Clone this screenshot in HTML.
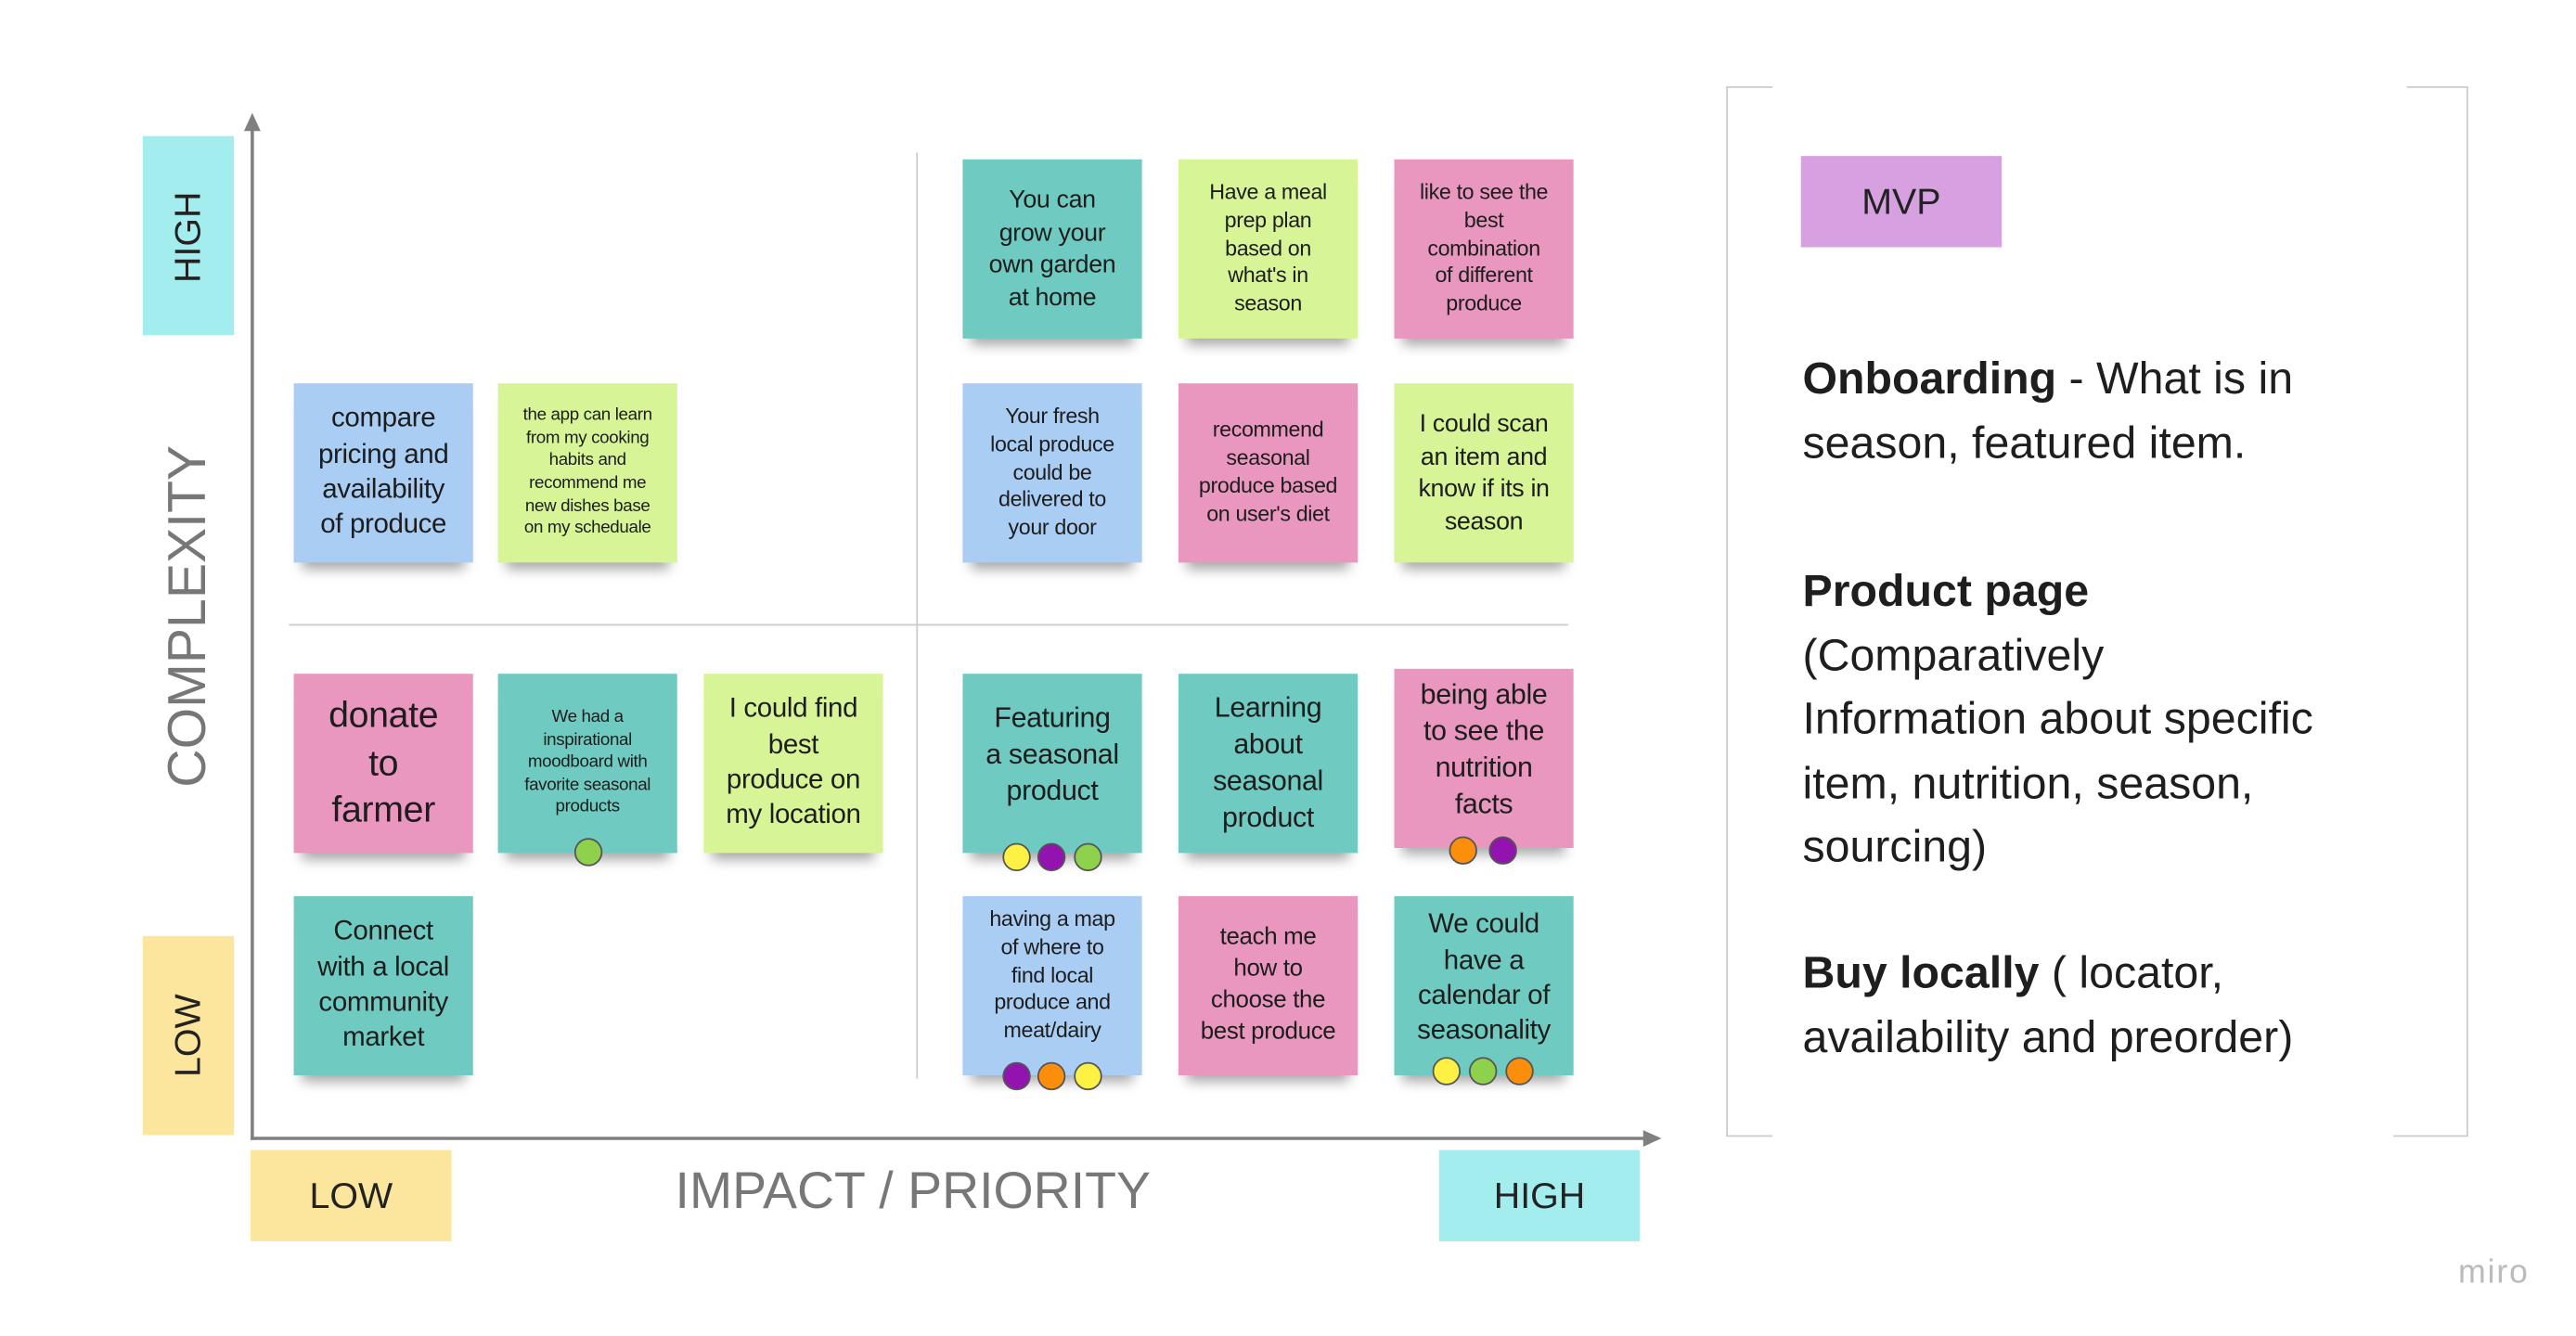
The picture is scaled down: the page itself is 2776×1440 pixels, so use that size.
<!DOCTYPE html>
<html><head><meta charset="utf-8"><style>
html,body{margin:0;padding:0;background:#fff;}
body{width:2776px;height:1440px;overflow:hidden;position:relative;}
#w{position:absolute;left:0;top:0;width:1552px;height:805px;transform:scale(1.78866);transform-origin:0 0;font-family:"Liberation Sans",sans-serif;}
.a{position:absolute;}
.n{position:absolute;width:108px;height:108px;display:flex;align-items:center;justify-content:center;text-align:center;color:#1d1d1d;box-shadow:0 9px 7px -5px rgba(0,0,0,.35);line-height:1.3;letter-spacing:-0.2px;box-sizing:border-box;padding:0 4px;}
.t{background:#6fcbc1}.l{background:#d7f596}.p{background:#ea97bf}.b{background:#aacdf4}
.d{position:absolute;width:17px;height:17px;border-radius:50%;border:1px solid #555;box-sizing:border-box;}
.y{background:#fdf143}.pu{background:#9313b0}.g{background:#8ed14c}.o{background:#fb8e0a}
.rt{position:absolute;transform:rotate(-90deg);white-space:nowrap;}
.r{position:absolute;left:1086px;font-size:27px;color:#1e1e1e;line-height:38.5px;white-space:nowrap;}
</style></head><body><div id="w">
<!-- axis labels -->
<div class="a" style="left:86px;top:82px;width:55px;height:120px;background:#a3edee"></div>
<div class="rt" style="left:76px;top:130px;width:75px;text-align:center;font-size:22px;color:#222">HIGH</div>
<div class="a" style="left:86px;top:564px;width:55px;height:120px;background:#fce59c"></div>
<div class="rt" style="left:76px;top:611px;width:75px;text-align:center;font-size:22px;color:#222">LOW</div>
<div class="rt" style="left:23px;top:366px;width:180px;text-align:center;font-size:32px;color:#777">COMPLEXITY</div>
<div class="a" style="left:151px;top:693px;width:121px;height:55px;background:#fce59c;font-size:22px;color:#222;text-align:center;line-height:55px">LOW</div>
<div class="a" style="left:867px;top:693px;width:121px;height:55px;background:#a3edee;font-size:22px;color:#222;text-align:center;line-height:55px">HIGH</div>
<div class="a" style="left:380px;top:700px;width:340px;text-align:center;font-size:31px;color:#777">IMPACT / PRIORITY</div>
<svg class="a" style="left:0;top:0" width="1552" height="805">
<line x1="152" y1="76" x2="152" y2="687" stroke="#808080" stroke-width="2"/>
<polygon points="152,68 147,79 157,79" fill="#808080"/>
<line x1="151" y1="686" x2="994" y2="686" stroke="#808080" stroke-width="2"/>
<polygon points="1001,686 990,681 990,691" fill="#808080"/>
<line x1="552.5" y1="92" x2="552.5" y2="650" stroke="#ccc" stroke-width="1"/>
<line x1="174" y1="376.5" x2="945" y2="376.5" stroke="#ccc" stroke-width="1"/>
<path d="M1068,52.5 H1040.5 V684.5 H1068 M1450,52.5 H1486.5 V684.5 H1442" fill="none" stroke="#ccc" stroke-width="1"/>
</svg>
<!-- row 1 -->
<div class="n t" style="left:580px;top:96px;font-size:15px">You can<br>grow your<br>own garden<br>at home</div>
<div class="n l" style="left:710px;top:96px;font-size:13px">Have a meal<br>prep plan<br>based on<br>what's in<br>season</div>
<div class="n p" style="left:840px;top:96px;font-size:13px">like to see the<br>best<br>combination<br>of different<br>produce</div>
<!-- row 2 -->
<div class="n b" style="left:177px;top:231px;font-size:16.5px">compare<br>pricing and<br>availability<br>of produce</div>
<div class="n l" style="left:300px;top:231px;font-size:10.5px">the app can learn<br>from my cooking<br>habits and<br>recommend me<br>new dishes base<br>on my scheduale</div>
<div class="n b" style="left:580px;top:231px;font-size:13px">Your fresh<br>local produce<br>could be<br>delivered to<br>your door</div>
<div class="n p" style="left:710px;top:231px;font-size:13px">recommend<br>seasonal<br>produce based<br>on user's diet</div>
<div class="n l" style="left:840px;top:231px;font-size:15px">I could scan<br>an item and<br>know if its in<br>season</div>
<!-- row 3 -->
<div class="n p" style="left:177px;top:406px;font-size:22px">donate<br>to<br>farmer</div>
<div class="n t" style="left:300px;top:406px;font-size:10.5px">We had a<br>inspirational<br>moodboard with<br>favorite seasonal<br>products</div>
<div class="n l" style="left:424px;top:406px;font-size:16.5px">I could find<br>best<br>produce on<br>my location</div>
<div class="n t" style="left:580px;top:406px;font-size:17px;padding-bottom:10px">Featuring<br>a seasonal<br>product</div>
<div class="n t" style="left:710px;top:406px;font-size:17px">Learning<br>about<br>seasonal<br>product</div>
<div class="n p" style="left:840px;top:403px;font-size:17px;padding-bottom:10px">being able<br>to see the<br>nutrition<br>facts</div>
<!-- row 4 -->
<div class="n t" style="left:177px;top:540px;font-size:16.5px">Connect<br>with a local<br>community<br>market</div>
<div class="n b" style="left:580px;top:540px;font-size:13px;padding-bottom:12px">having a map<br>of where to<br>find local<br>produce and<br>meat/dairy</div>
<div class="n p" style="left:710px;top:540px;font-size:14.5px">teach me<br>how to<br>choose the<br>best produce</div>
<div class="n t" style="left:840px;top:540px;font-size:16.5px;padding-bottom:8px">We could<br>have a<br>calendar of<br>seasonality</div>
<!-- dots -->
<div class="d g" style="left:346px;top:505px"></div>
<div class="d y" style="left:604px;top:508px"></div>
<div class="d pu" style="left:625px;top:508px"></div>
<div class="d g" style="left:647px;top:508px"></div>
<div class="d o" style="left:873px;top:504px"></div>
<div class="d pu" style="left:897px;top:504px"></div>
<div class="d pu" style="left:604px;top:640px"></div>
<div class="d o" style="left:625px;top:640px"></div>
<div class="d y" style="left:647px;top:640px"></div>
<div class="d y" style="left:863px;top:637px"></div>
<div class="d g" style="left:885px;top:637px"></div>
<div class="d o" style="left:907px;top:637px"></div>
<!-- right panel -->
<div class="a" style="left:1085px;top:94px;width:121px;height:55px;background:#d7a1e1;font-size:22px;color:#222;text-align:center;line-height:55px">MVP</div>
<div class="r" style="top:209px"><b>Onboarding</b> - What is in<br>season, featured item.</div>
<div class="r" style="top:337px"><b>Product page</b><br>(Comparatively<br>Information about specific<br>item, nutrition, season,<br>sourcing)</div>
<div class="r" style="top:567px"><b>Buy locally</b> ( locator,<br>availability and preorder)</div>
<div class="a" style="left:1481px;top:756px;font-size:20px;color:#bbb;letter-spacing:1px">miro</div>
</div></body></html>
